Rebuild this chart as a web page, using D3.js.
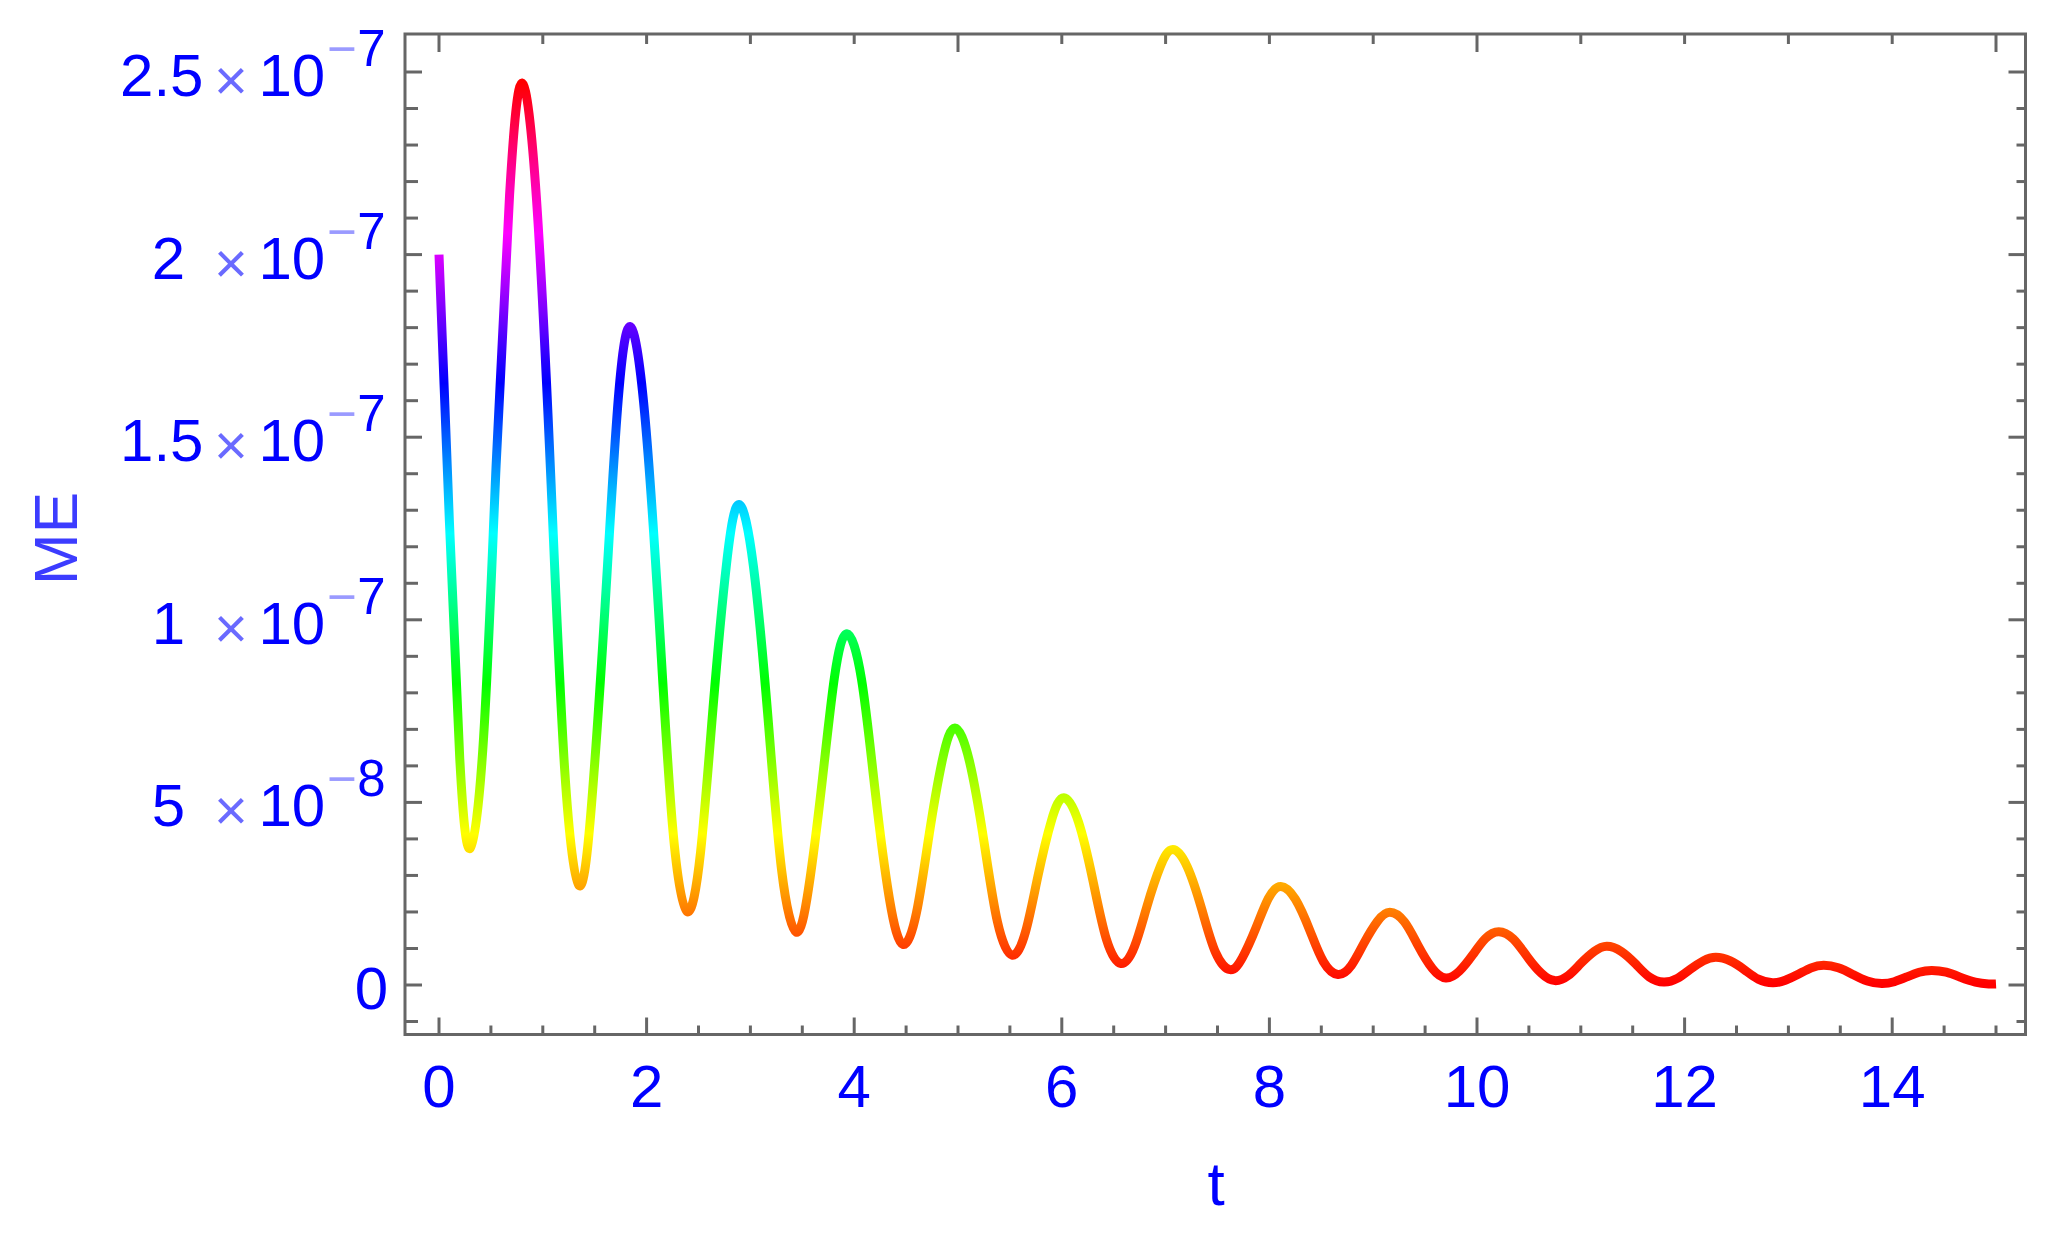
<!DOCTYPE html>
<html>
<head>
<meta charset="utf-8">
<script src="https://cdn.jsdelivr.net/npm/d3@7"></script>
<style>
  html, body { margin: 0; padding: 0; background: #ffffff; }
  svg { display: block; }
  text { font-family: "Liberation Sans", Arial, "DejaVu Sans", sans-serif; }
</style>
</head>
<body>
<svg id="chart" width="2065" height="1238"></svg>
<script>
// ---------------- data ----------------
// time values t
const tVals = [0, 0.10, 0.20, 0.30,
  0.43, 0.55, 0.68, 0.80,   0.94, 1.08, 1.21, 1.35,
  1.47, 1.60, 1.72, 1.84,   1.98, 2.12, 2.25, 2.39,
  2.52, 2.64, 2.77, 2.89,   3.03, 3.17, 3.30, 3.44,
  3.56, 3.69, 3.81, 3.93,   4.07, 4.20, 4.34, 4.47,
  4.60, 4.72, 4.85, 4.97,   5.11, 5.25, 5.38, 5.52,
  5.65, 5.77, 5.90, 6.02,   6.16, 6.30, 6.43, 6.57,
  6.70, 6.82, 6.95, 7.07,   7.21, 7.35, 7.48, 7.62,
  7.74, 7.87, 7.99, 8.11,   8.25, 8.39, 8.52, 8.66,
  8.79, 8.91, 9.04, 9.16,   9.30, 9.43, 9.57, 9.70,
  9.83, 9.96, 10.08, 10.21, 10.35, 10.48, 10.62, 10.75,
  10.88, 11.00, 11.13, 11.25, 11.39, 11.53, 11.66, 11.80,
  11.93, 12.05, 12.18, 12.30, 12.44, 12.58, 12.71, 12.85,
  12.97, 13.10, 13.22, 13.34, 13.48, 13.62, 13.76, 13.90,
  14.02, 14.14, 14.26, 14.38, 14.52, 14.66, 14.80, 14.93, 15.00];

// ME values, in units of 1e-8
const meVals = [20.0, 12.7, 6.2, 3.74,
  6.80, 14.22, 21.64, 24.7,  21.49, 13.71, 5.93, 2.72,
  4.96, 10.38, 15.79, 18.03, 15.69, 10.02, 4.35, 2.01,
  3.64, 7.59, 11.53, 13.16,  11.45, 7.30, 3.16, 1.45,
  2.64, 5.54, 8.43, 9.62,    8.38, 5.36, 2.35, 1.11,
  1.98, 4.08, 6.17, 7.04,    6.13, 3.93, 1.73, 0.82,
  1.45, 2.98, 4.50, 5.13,    4.47, 2.86, 1.25, 0.59,
  1.05, 2.15, 3.25, 3.71,    3.23, 2.06, 0.90, 0.42,
  0.75, 1.56, 2.37, 2.70,    2.35, 1.49, 0.64, 0.29,
  0.54, 1.14, 1.74, 1.99,    1.73, 1.09, 0.45, 0.19,
  0.38, 0.83, 1.27, 1.46,    1.26, 0.79, 0.32, 0.12,
  0.26, 0.59, 0.92, 1.06,    0.92, 0.57, 0.22, 0.08,
  0.18, 0.42, 0.66, 0.76,    0.66, 0.41, 0.16, 0.06,
  0.13, 0.30, 0.47, 0.54,    0.47, 0.29, 0.11, 0.04,
  0.09, 0.22, 0.35, 0.40,    0.35, 0.21, 0.08, 0.03, 0.03];

const xTickValues = [0, 2, 4, 6, 8, 10, 12, 14];
const xTickLabels = ["0", "2", "4", "6", "8", "10", "12", "14"];
const yTickValues = [0, 5, 10, 15, 20, 25];          // units of 1e-8
const yTickMantissa = ["0", "5", "1", "1.5", "2", "2.5"];
const yTickExponent = ["", "8", "7", "7", "7", "7"];
const xLabel = "t";
const yLabel = "ME";

// ---------------- layout ----------------
const svg = d3.select("#chart");
const frame = {left: 405, right: 2025.5, top: 34, bottom: 1034.5};
const x = d3.scaleLinear().domain([0, 15]).range([439, 1996]);
const y = d3.scaleLinear().domain([0, 25]).range([985, 72]);
const gray = "#666666";
const blue = "#0000ff";

svg.append("rect").attr("width", 2065).attr("height", 1238).attr("fill", "#ffffff");

// gradient by value (hue 0 -> 360 over min..max)
const vmin = d3.min(meVals), vmax = d3.max(meVals);
const defs = svg.append("defs");
const grad = defs.append("linearGradient")
  .attr("id", "hueGrad")
  .attr("gradientUnits", "userSpaceOnUse")
  .attr("x1", 0).attr("x2", 0)
  .attr("y1", y(vmin)).attr("y2", y(vmax));
d3.range(0, 13).forEach(i => {
  grad.append("stop")
    .attr("offset", i / 12)
    .attr("stop-color", d3.hsl(i * 30, 1, 0.5).formatHex());
});

// curve
const pts = tVals.map((t, i) => [t, meVals[i]]);
const line = d3.line().x(d => x(d[0])).y(d => y(d[1])).curve(d3.curveNatural);
svg.append("path")
  .attr("d", line(pts))
  .attr("fill", "none")
  .attr("stroke", "url(#hueGrad)")
  .attr("stroke-width", 9)
  .attr("stroke-linejoin", "round")
  .attr("stroke-linecap", "butt");

// frame
const g = svg.append("g").attr("stroke", gray).attr("stroke-width", 3);
g.append("rect")
  .attr("x", frame.left).attr("y", frame.top)
  .attr("width", frame.right - frame.left).attr("height", frame.bottom - frame.top)
  .attr("fill", "none");

// bottom ticks (major every 2, minor every 0.5)
d3.range(0, 15.001, 0.5).forEach(t => {
  const major = Math.abs(t / 2 - Math.round(t / 2)) < 1e-9;
  g.append("line").attr("x1", x(t)).attr("x2", x(t))
    .attr("y1", frame.bottom).attr("y2", frame.bottom - (major ? 17 : 9));
});
// top ticks (major every 5, minor every 1)
d3.range(0, 15.001, 1).forEach(t => {
  const major = t % 5 === 0;
  g.append("line").attr("x1", x(t)).attr("x2", x(t))
    .attr("y1", frame.top).attr("y2", frame.top + (major ? 18 : 10));
});
// left / right ticks (major every 5e-8, minor every 1e-8)
d3.range(-1, 25.001, 1).forEach(v => {
  const major = v % 5 === 0;
  g.append("line").attr("x1", frame.left).attr("x2", frame.left + (major ? 17 : 13))
    .attr("y1", y(v)).attr("y2", y(v));
  g.append("line").attr("x1", frame.right).attr("x2", frame.right - (major ? 17 : 9))
    .attr("y1", y(v)).attr("y2", y(v));
});

// x tick labels
svg.append("g").selectAll("text").data(xTickValues).join("text")
  .attr("x", d => x(d)).attr("y", 1107)
  .attr("text-anchor", "middle")
  .attr("font-size", 60).attr("fill", blue)
  .text((d, i) => xTickLabels[i]);

// y tick labels
yTickValues.forEach((v, i) => {
  const base = y(v) + 24;
  const m = yTickMantissa[i];
  if (!yTickExponent[i]) {
    svg.append("text").attr("x", 388).attr("y", base)
      .attr("text-anchor", "end").attr("font-size", 60).attr("fill", blue).text(m);
    return;
  }
  svg.append("text").attr("x", m.includes(".") ? 203.5 : 185).attr("y", base)
    .attr("text-anchor", "end").attr("font-size", 60).attr("fill", blue).text(m);
  svg.append("text").attr("x", 231).attr("y", base + 4)
    .attr("text-anchor", "middle").attr("font-size", 58).attr("fill", "#6a6aff").text("×");
  svg.append("text").attr("x", 258.5).attr("y", base)
    .attr("text-anchor", "start").attr("font-size", 60).attr("fill", blue).text("10");
  const sup = svg.append("text").attr("x", 385.5).attr("y", base - 30)
    .attr("text-anchor", "end").attr("font-size", 51);
  sup.append("tspan").attr("fill", "#9a9aff").text("−");
  sup.append("tspan").attr("fill", blue).text(yTickExponent[i]);
});

// axis labels
svg.append("text")
  .attr("x", 1216).attr("y", 1205)
  .attr("text-anchor", "middle").attr("font-size", 62).attr("fill", blue)
  .text(xLabel);
svg.append("text")
  .attr("transform", "translate(77,538.5) rotate(-90)")
  .attr("text-anchor", "middle").attr("font-size", 62).attr("fill", "#3c3cff")
  .text(yLabel);
</script>
</body>
</html>
